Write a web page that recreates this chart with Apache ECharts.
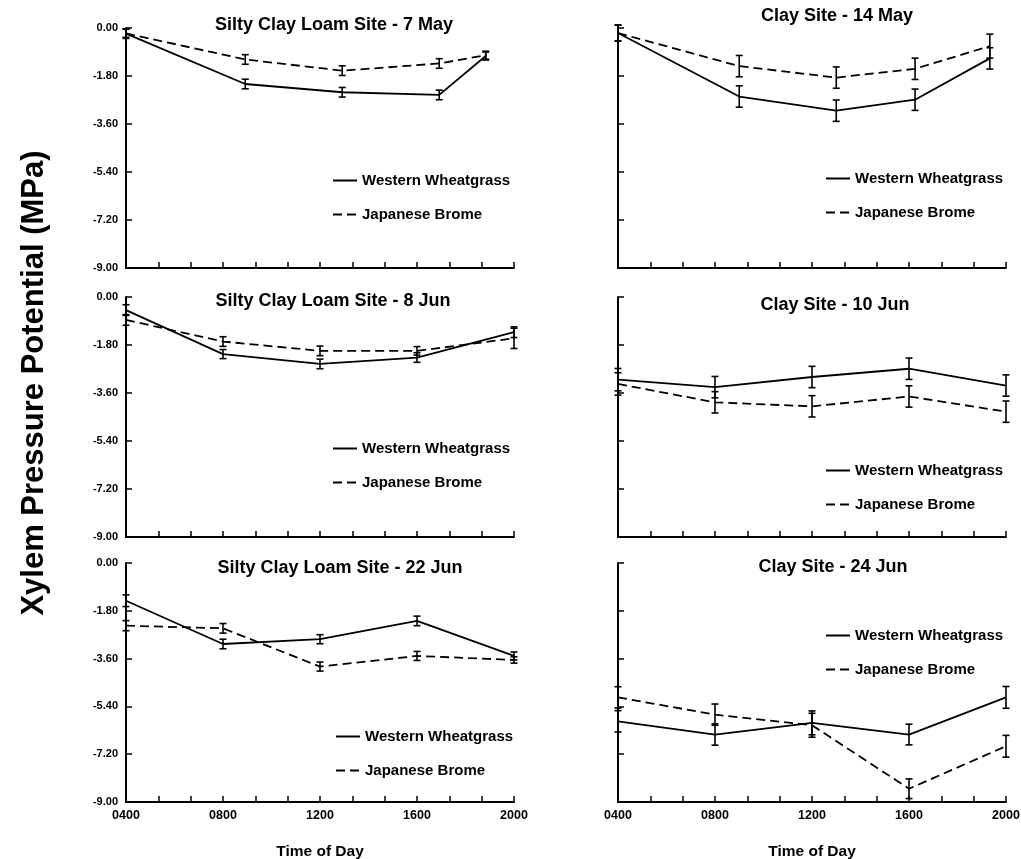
<!DOCTYPE html>
<html>
<head>
<meta charset="utf-8">
<script src="https://cdn.jsdelivr.net/npm/echarts@6/dist/echarts.min.js"></script>
<style>
  html, body { margin: 0; padding: 0; background: #fff; }
  #chart { width: 1021px; height: 859px; }
</style>
</head>
<body>
<div id="chart"></div>
<script>
// time of day in minutes after midnight
var timeRegular = [240, 480, 720, 960, 1200];
var timeMay7 = [240, 535, 775, 1015, 1130];
var timeMay14 = [240, 540, 780, 975, 1160];

var panelTitles = [
    'Silty Clay Loam Site - 7 May', 'Clay Site - 14 May',
    'Silty Clay Loam Site - 8 Jun', 'Clay Site - 10 Jun',
    'Silty Clay Loam Site - 22 Jun', 'Clay Site - 24 Jun'
];

// western wheatgrass / japanese brome, MPa
var wwMay7 = [-0.21, -2.10, -2.41, -2.51, -1.05];
var jbMay7 = [-0.20, -1.18, -1.60, -1.33, -1.02];
var wwErrMay7 = [0.18, 0.18, 0.18, 0.18, 0.15];
var jbErrMay7 = [0.15, 0.18, 0.18, 0.18, 0.15];

var wwMay14 = [-0.19, -2.57, -3.10, -2.69, -1.14];
var jbMay14 = [-0.19, -1.43, -1.86, -1.53, -0.68];
var wwErrMay14 = [0.3, 0.4, 0.4, 0.4, 0.4];
var jbErrMay14 = [0.3, 0.4, 0.4, 0.4, 0.45];

var wwJun8 = [-0.49, -2.14, -2.51, -2.27, -1.32];
var jbJun8 = [-0.86, -1.67, -2.02, -2.02, -1.55];
var wwErrJun8 = [0.2, 0.17, 0.18, 0.18, 0.2];
var jbErrJun8 = [0.2, 0.18, 0.18, 0.16, 0.38];

var wwJun10 = [-3.10, -3.38, -3.00, -2.69, -3.32];
var jbJun10 = [-3.26, -3.95, -4.10, -3.73, -4.30];
var wwErrJun10 = [0.42, 0.4, 0.4, 0.4, 0.4];
var jbErrJun10 = [0.42, 0.4, 0.4, 0.4, 0.4];

var wwJun22 = [-1.42, -3.05, -2.87, -2.18, -3.50];
var jbJun22 = [-2.36, -2.46, -3.90, -3.50, -3.65];
var wwErrJun22 = [0.22, 0.18, 0.17, 0.18, 0.15];
var jbErrJun22 = [0.19, 0.18, 0.17, 0.17, 0.12];

var wwJun24 = [-5.96, -6.46, -6.02, -6.46, -5.06];
var jbJun24 = [-5.06, -5.71, -6.11, -8.50, -6.90];
var wwErrJun24 = [0.4, 0.4, 0.45, 0.39, 0.41];
var jbErrJun24 = [0.4, 0.4, 0.45, 0.37, 0.41];

var yTicks = ['0.00', '-1.80', '-3.60', '-5.40', '-7.20', '-9.00'];

var panels = [
    { time: timeMay7, ww: wwMay7, jb: jbMay7, wwErr: wwErrMay7, jbErr: jbErrMay7 },
    { time: timeMay14, ww: wwMay14, jb: jbMay14, wwErr: wwErrMay14, jbErr: jbErrMay14 },
    { time: timeRegular, ww: wwJun8, jb: jbJun8, wwErr: wwErrJun8, jbErr: jbErrJun8 },
    { time: timeRegular, ww: wwJun10, jb: jbJun10, wwErr: wwErrJun10, jbErr: jbErrJun10 },
    { time: timeRegular, ww: wwJun22, jb: jbJun22, wwErr: wwErrJun22, jbErr: jbErrJun22 },
    { time: timeRegular, ww: wwJun24, jb: jbJun24, wwErr: wwErrJun24, jbErr: jbErrJun24 }
];

var FONT = 'Liberation Sans, Arial, Helvetica, sans-serif';
var colLeft = [126, 618];
var rowTop = [28, 297, 563];
var rowHeight = [240, 240, 239];
// title centres and legend spots, per panel
var titlePos = [[334, 25], [837, 16], [333, 301], [835, 305], [340, 568], [833, 567]];
var legendPos = [[332, 173], [825, 171], [332, 441], [825, 463], [335, 729], [825, 628]];

var chart = echarts.init(document.getElementById('chart'));

function pad(v) {
    var s = String(Math.round(v / 60 * 100));
    while (s.length < 4) s = '0' + s;
    return s;
}

function renderErr(params, api) {
    var x = api.value(0), y = api.value(1), e = api.value(2);
    var top = api.coord([x, y + e]);
    var bot = api.coord([x, y - e]);
    var w = 3.5;
    var st = { stroke: '#000', lineWidth: 1.6 };
    return {
        type: 'group',
        children: [
            { type: 'line', shape: { x1: top[0], y1: top[1], x2: bot[0], y2: bot[1] }, style: st },
            { type: 'line', shape: { x1: top[0] - w, y1: top[1], x2: top[0] + w, y2: top[1] }, style: st },
            { type: 'line', shape: { x1: bot[0] - w, y1: bot[1], x2: bot[0] + w, y2: bot[1] }, style: st }
        ]
    };
}

var grids = [], xAxes = [], yAxes = [], series = [], legends = [], graphics = [];

panels.forEach(function(p, i) {
    var row = Math.floor(i / 2), col = i % 2;
    var bottomRow = row === 2;
    grids.push({
        left: colLeft[col], top: rowTop[row], width: 388, height: rowHeight[row],
        outerBoundsMode: 'none', containLabel: false
    });
    xAxes.push({
        type: 'value', gridIndex: i, min: 240, max: 1200, interval: 80,
        axisLine: { onZero: false, lineStyle: { color: '#000', width: 2 } },
        axisTick: { inside: true, length: 6, lineStyle: { color: '#000', width: 1.5 } },
        splitLine: { show: false },
        axisLabel: {
            show: bottomRow, color: '#000', fontFamily: FONT, fontWeight: 'bold', fontSize: 12.5, margin: 7,
            formatter: function(v) { return v % 240 === 0 ? pad(v) : ''; }
        },
        name: bottomRow ? 'Time of Day' : '',
        nameLocation: 'middle', nameGap: 42,
        nameTextStyle: { color: '#000', fontFamily: FONT, fontWeight: 'bold', fontSize: 15.5 }
    });
    yAxes.push({
        type: 'value', gridIndex: i, min: -9, max: 0, interval: 1.8,
        axisLine: { show: true, lineStyle: { color: '#000', width: 2 } },
        axisTick: { show: true, inside: true, length: 6, lineStyle: { color: '#000', width: 1.5 } },
        splitLine: { show: false },
        axisLabel: {
            show: col === 0, color: '#000', fontFamily: FONT, fontWeight: 'bold', fontSize: 11, margin: 8,
            formatter: function(v) { return yTicks[Math.round(-v / 1.8)]; }
        }
    });
    series.push({
        name: 'Western Wheatgrass', type: 'line', xAxisIndex: i, yAxisIndex: i,
        data: p.time.map(function(t, k) { return [t, p.ww[k]]; }),
        symbol: 'none', lineStyle: { color: '#000', width: 1.8 }, itemStyle: { color: '#000' },
        animation: false
    });
    series.push({
        name: 'Japanese Brome', type: 'line', xAxisIndex: i, yAxisIndex: i,
        data: p.time.map(function(t, k) { return [t, p.jb[k]]; }),
        symbol: 'none', lineStyle: { color: '#000', width: 1.8, type: [9, 5] }, itemStyle: { color: '#000' },
        animation: false
    });
    series.push({
        type: 'custom', xAxisIndex: i, yAxisIndex: i, renderItem: renderErr,
        encode: { x: 0, y: 1 }, animation: false,
        data: p.time.map(function(t, k) { return [t, p.ww[k], p.wwErr[k]]; })
    });
    series.push({
        type: 'custom', xAxisIndex: i, yAxisIndex: i, renderItem: renderErr,
        encode: { x: 0, y: 1 }, animation: false,
        data: p.time.map(function(t, k) { return [t, p.jb[k], p.jbErr[k]]; })
    });
    legends.push({
        data: ['Western Wheatgrass', 'Japanese Brome'],
        orient: 'vertical', left: legendPos[i][0], top: legendPos[i][1],
        itemWidth: 24, itemHeight: 14, itemGap: 19, padding: 0,
        selectedMode: false,
        itemStyle: { opacity: 0 },
        textStyle: { color: '#000', fontFamily: FONT, fontWeight: 'bold', fontSize: 15 }
    });
    graphics.push({
        type: 'text', x: titlePos[i][0], y: titlePos[i][1],
        style: {
            text: panelTitles[i], fill: '#000', font: 'bold 18px ' + FONT,
            textAlign: 'center', textVerticalAlign: 'middle'
        }
    });
});

graphics.push({
    type: 'text', x: 34, y: 383, rotation: Math.PI / 2,
    style: {
        text: 'Xylem Pressure Potential (MPa)', fill: '#000', font: 'bold 31px ' + FONT,
        textAlign: 'center', textVerticalAlign: 'middle'
    }
});

chart.setOption({
    backgroundColor: '#fff',
    animation: false,
    grid: grids,
    xAxis: xAxes,
    yAxis: yAxes,
    legend: legends,
    series: series,
    graphic: graphics
});
</script>
</body>
</html>
